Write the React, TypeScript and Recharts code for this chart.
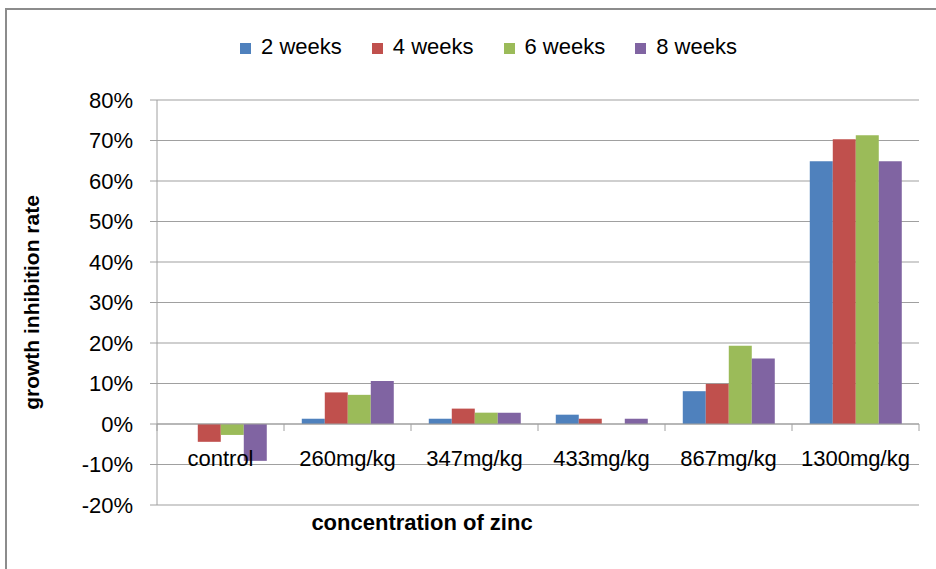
import { BarChart, Bar, XAxis, YAxis, CartesianGrid, Legend, Label, ReferenceLine } from "recharts";

const categories = ["control", "260mg/kg", "347mg/kg", "433mg/kg", "867mg/kg", "1300mg/kg"];
const week2 = [0, 0.013, 0.013, 0.023, 0.081, 0.649];
const week4 = [-0.044, 0.078, 0.038, 0.013, 0.099, 0.703];
const week6 = [-0.027, 0.072, 0.028, 0, 0.193, 0.713];
const week8 = [-0.091, 0.106, 0.028, 0.013, 0.162, 0.649];
const yTicks = [-0.2, -0.1, 0, 0.1, 0.2, 0.3, 0.4, 0.5, 0.6, 0.7, 0.8];

const data = categories.map((name, i) => ({
  name,
  w2: week2[i],
  w4: week4[i],
  w6: week6[i],
  w8: week8[i],
}));

const FONT = "'Liberation Sans', Arial, sans-serif";
const GRID = "#a0a0a0";
const PLOT_H = 405;
const BAND = 762 / categories.length;
// distance from plot bottom up to the 0% line
const ZERO_UP = (PLOT_H * (0 - yTicks[0])) / (yTicks[yTicks.length - 1] - yTicks[0]);

// eslint-disable-next-line @typescript-eslint/no-explicit-any
function CatTick(props: any) {
  const { x, y, payload, index } = props;
  const zy = y - ZERO_UP;
  const last = index === categories.length - 1;
  return (
    <g>
      <line x1={x - BAND / 2} x2={x - BAND / 2} y1={zy} y2={zy + 7} stroke={GRID} />
      {last && <line x1={x + BAND / 2} x2={x + BAND / 2} y1={zy} y2={zy + 7} stroke={GRID} />}
      <text x={x} y={zy + 42} textAnchor="middle" fontSize={22} fontFamily={FONT} fill="#000">
        {payload.value}
      </text>
    </g>
  );
}

export default function App() {
  return (
    <div style={{ position: "absolute", left: 0, top: 0, width: 936, height: 569, background: "#fff", fontFamily: FONT }}>
      <div
        style={{
          position: "absolute",
          left: 5,
          top: 8,
          width: 940,
          height: 570,
          borderLeft: "2px solid #8c8c8c",
          borderTop: "2px solid #8c8c8c",
        }}
      />
      <BarChart
        width={936}
        height={569}
        data={data}
        margin={{ top: 74, right: 17, bottom: 0, left: 0 }}
        barCategoryGap="14%"
        barGap={0}
      >
        <CartesianGrid vertical={false} stroke={GRID} strokeWidth={1.2} />
        <XAxis
          dataKey="name"
          height={64}
          axisLine={false}
          tickLine={false}
          tickSize={0}
          tickMargin={0}
          interval={0}
          tick={<CatTick />}
        >
          <Label
            value="concentration of zinc"
            position="insideTop"
            dx={-116}
            dy={4}
            style={{ fontSize: 22, fontWeight: "bold", fontFamily: FONT, fill: "#000" }}
          />
        </XAxis>
        <YAxis
          width={157}
          domain={[-0.2, 0.8]}
          ticks={yTicks}
          interval={0}
          tickFormatter={(v: number) => `${Math.round(v * 100)}%`}
          tick={{ fontSize: 22, fontFamily: FONT, fill: "#000" }}
          tickSize={7}
          tickMargin={17}
          stroke={GRID}
          axisLine={{ stroke: GRID }}
          tickLine={{ stroke: GRID }}
        >
          <Label
            value="growth inhibition rate"
            angle={-90}
            position="insideLeft"
            offset={32}
            style={{ textAnchor: "middle", fontSize: 21, fontWeight: "bold", fontFamily: FONT, fill: "#000" }}
          />
        </YAxis>
        <ReferenceLine y={0} stroke={GRID} strokeWidth={1.2} />
        <Legend
          verticalAlign="top"
          align="center"
          iconType="square"
          iconSize={11}
          wrapperStyle={{ top: 34, left: 44, fontSize: 22, fontFamily: FONT, color: "#000" }}
          formatter={(value: string) => (
            <span style={{ color: "#000", paddingLeft: 6, marginRight: 20 }}>{value}</span>
          )}
        />
        <Bar dataKey="w2" name="2 weeks" fill="#4F81BD" isAnimationActive={false} />
        <Bar dataKey="w4" name="4 weeks" fill="#C0504D" isAnimationActive={false} />
        <Bar dataKey="w6" name="6 weeks" fill="#9BBB59" isAnimationActive={false} />
        <Bar dataKey="w8" name="8 weeks" fill="#8064A2" isAnimationActive={false} />
      </BarChart>
    </div>
  );
}
